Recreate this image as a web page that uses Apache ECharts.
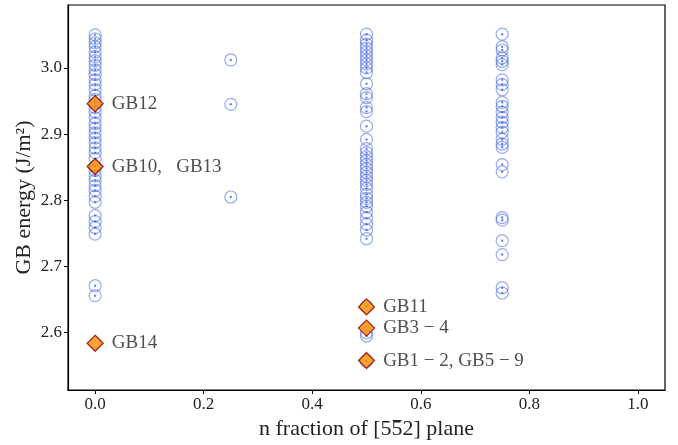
<!DOCTYPE html>
<html><head><meta charset="utf-8">
<script src="https://cdn.jsdelivr.net/npm/echarts@6/dist/echarts.min.js"></script>
<style>html,body{margin:0;padding:0;background:#fff}#c{width:678px;height:445px}</style>
</head><body><div id="c"></div>
<script>
const xTicks = [0.0, 0.2, 0.4, 0.6, 0.8, 1.0];
const yTicks = [2.6, 2.7, 2.8, 2.9, 3.0];
const fraction0 = [3.050,3.044,3.038,3.032,3.024,3.017,3.011,3.004,2.997,2.990,2.982,2.975,2.967,2.958,2.952,2.946,2.940,2.933,2.925,2.916,2.909,2.902,2.894,2.887,2.879,2.872,2.863,2.851,2.845,2.837,2.830,2.822,2.815,2.806,2.797,2.777,2.768,2.759,2.749,2.671,2.656];
const fraction025 = [3.012,2.945,2.805];
const fraction05 = [3.051,3.042,3.036,3.030,3.024,3.018,3.012,3.006,3.000,2.993,2.976,2.961,2.955,2.940,2.934,2.912,2.892,2.878,2.872,2.866,2.860,2.854,2.848,2.842,2.836,2.830,2.824,2.818,2.809,2.803,2.797,2.791,2.782,2.773,2.764,2.755,2.742,2.640,2.600,2.595,2.557];
const fraction075 = [3.051,3.032,3.027,3.015,3.010,3.005,2.982,2.975,2.967,2.948,2.942,2.933,2.925,2.918,2.910,2.903,2.892,2.885,2.880,2.854,2.843,2.774,2.770,2.739,2.718,2.668,2.660];
const gbX = [0, 0, 0, 0.5, 0.5, 0.5];
const gbY = [2.946, 2.851, 2.584, 2.639, 2.607, 2.558];
const gbNames = ['GB12', 'GB10,   GB13', 'GB14', 'GB11', 'GB3 \u2212 4', 'GB1 \u2212 2, GB5 \u2212 9'];

const circles = [];
fraction0.forEach(v => circles.push([0, v]));
fraction025.forEach(v => circles.push([0.25, v]));
fraction05.forEach(v => circles.push([0.5, v]));
fraction075.forEach(v => circles.push([0.75, v]));
const gbData = gbX.map((x, i) => ({value: [x, gbY[i]], name: gbNames[i]}));

// overline texture for the barred digit
const ovCanvas = document.createElement('canvas');
ovCanvas.width = 10; ovCanvas.height = 100;
(function () {
  const g = ovCanvas.getContext('2d');
  g.fillStyle = '#222';
  g.fillRect(1, 10, 8, 5);
})();

const serif = '"Liberation Serif", "DejaVu Serif", serif';
const chart = echarts.init(document.getElementById('c'));
chart.setOption({
  animation: false,
  grid: {left: 68, right: 13, top: 5, bottom: 52, show: true, borderColor: '#000', borderWidth: 1.2},
  xAxis: {
    type: 'value', min: -0.05, max: 1.05,
    name: '{t|n fraction of [5}{ov|5}{t|2] plane}', nameLocation: 'middle', nameGap: 26,
    nameTextStyle: {fontFamily: serif, fontSize: 22, color: '#222',
      rich: {t: {fontFamily: serif, fontSize: 22, color: '#222', lineHeight: 26},
             ov: {fontFamily: serif, fontSize: 22, color: '#222', lineHeight: 26,
                  backgroundColor: {image: ovCanvas}}}},
    axisLine: {show: true, onZero: false, lineStyle: {color: '#000', width: 1.2}},
    axisTick: {show: true, length: 4, lineStyle: {color: '#000'}, customValues: xTicks},
    axisLabel: {fontFamily: serif, fontSize: 17, color: '#222', margin: 6,
      customValues: xTicks, formatter: v => v.toFixed(1)},
    splitLine: {show: false}
  },
  yAxis: {
    type: 'value', min: 2.5135, max: 3.095,
    name: 'GB energy (J/m\u00b2)', nameLocation: 'middle', nameGap: 33, nameMoveOverlap: false,
    nameTextStyle: {fontFamily: serif, fontSize: 22, color: '#222'},
    axisLine: {show: true, onZero: false, lineStyle: {color: '#000', width: 1.2}},
    axisTick: {show: true, length: 4, lineStyle: {color: '#000'}, customValues: yTicks},
    axisLabel: {fontFamily: serif, fontSize: 17, color: '#222', margin: 6,
      customValues: yTicks, formatter: v => v.toFixed(1)},
    splitLine: {show: false}
  },
  series: [
    {type: 'scatter', data: circles, symbol: 'circle', symbolSize: 12,
     itemStyle: {color: 'rgba(0,0,0,0)', borderColor: 'rgba(80,115,230,0.75)', borderWidth: 1.2}},
    {type: 'scatter', data: circles, symbol: 'circle', symbolSize: 2.5,
     itemStyle: {color: 'rgba(60,95,220,0.9)'}},
    {type: 'scatter', data: gbData, symbol: 'diamond', symbolSize: 16,
     itemStyle: {color: '#ff8c00', borderColor: '#8b0000', borderWidth: 1.3},
     label: {show: true, position: 'right', distance: 8, formatter: p => p.name,
       fontFamily: serif, fontSize: 19, color: '#222'}}
  ]
});
</script></body></html>
